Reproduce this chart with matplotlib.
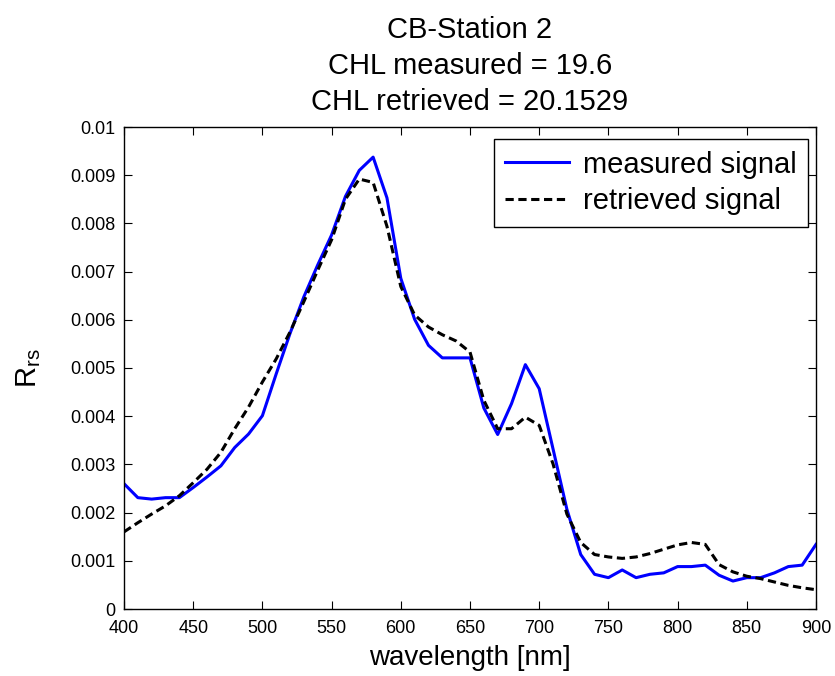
import numpy as np
import matplotlib
matplotlib.use("Agg")
import matplotlib.pyplot as plt

wavelength = list(range(400, 901, 10))
measured = [2.60, 2.31, 2.28, 2.31, 2.31, 2.52, 2.74, 2.97, 3.35, 3.63,
            4.01, 4.88, 5.72, 6.48, 7.14, 7.76, 8.56, 9.10, 9.375, 8.53,
            6.86, 6.01, 5.47, 5.21, 5.21, 5.21, 4.17, 3.62, 4.26, 5.07,
            4.57, 3.32, 2.07, 1.13, 0.72, 0.65, 0.81, 0.65, 0.72, 0.75,
            0.88, 0.88, 0.91, 0.70, 0.58, 0.65, 0.65, 0.75, 0.88, 0.91,
            1.34]
retrieved = [1.60, 1.79, 1.97, 2.14, 2.35, 2.62, 2.90, 3.25, 3.74, 4.19,
             4.71, 5.19, 5.75, 6.38, 7.03, 7.66, 8.50, 8.92, 8.85, 7.94,
             6.69, 6.10, 5.85, 5.69, 5.56, 5.33, 4.33, 3.74, 3.74, 3.98,
             3.81, 3.01, 1.97, 1.38, 1.13, 1.08, 1.05, 1.08, 1.15, 1.24,
             1.33, 1.38, 1.34, 0.92, 0.77, 0.68, 0.63, 0.56, 0.49, 0.44,
             0.40]
measured = [v * 1e-3 for v in measured]
retrieved = [v * 1e-3 for v in retrieved]

title_lines = ["CB-Station 2", "CHL measured = 19.6", "CHL retrieved = 20.1529"]
xticks = [400, 450, 500, 550, 600, 650, 700, 750, 800, 850, 900]
yticks = [0, 0.001, 0.002, 0.003, 0.004, 0.005, 0.006, 0.007, 0.008, 0.009, 0.01]
ytick_labels = ["0", "0.001", "0.002", "0.003", "0.004", "0.005", "0.006",
                "0.007", "0.008", "0.009", "0.01"]

plt.rcParams["font.family"] = ["Liberation Sans", "DejaVu Sans"]
plt.rcParams["mathtext.fontset"] = "custom"
plt.rcParams["mathtext.rm"] = "Liberation Sans"

fig = plt.figure(figsize=(8.35, 6.76), dpi=100)
L, R, T, B = 124, 816, 127, 609
ax = fig.add_axes([L/835, (676-B)/676, (R-L)/835, (B-T)/676])

ax.plot(wavelength, measured, color="#0000ff", lw=2.2, label="measured signal")
ax.plot(wavelength, retrieved, color="black", lw=2.2, ls=(0, (2.7, 1.5)),
        label="retrieved signal")

ax.set_xlim(400, 900)
ax.set_ylim(0, 0.01)
ax.set_xticks(xticks)
ax.set_xticklabels([str(t) for t in xticks], fontsize=13)
ax.set_yticks(yticks)
ax.set_yticklabels(ytick_labels, fontsize=13)
ax.tick_params(direction="in", top=True, right=True, length=6, width=0.8)
ax.tick_params(axis="x", pad=8)
ax.tick_params(axis="y", pad=6)
for s in ax.spines.values():
    s.set_linewidth(1.0)

ax.set_xlabel("wavelength [nm]", fontsize=20, labelpad=6)
ax.set_ylabel(r"R$_{\mathregular{rs}}$", fontsize=21, labelpad=20)
ax.set_title("\n".join(title_lines), fontsize=21, linespacing=1.35, pad=12.5)

leg = ax.legend(loc="upper right", bbox_to_anchor=(1 - 8/692, 1 - 12/482),
                fontsize=21, frameon=True, fancybox=False,
                edgecolor="black", framealpha=1, handlelength=2.2,
                handletextpad=0.45, borderaxespad=0, labelspacing=0.3,
                borderpad=0.4)
leg.get_frame().set_linewidth(1.0)

fig.savefig("out.png", dpi=100)
